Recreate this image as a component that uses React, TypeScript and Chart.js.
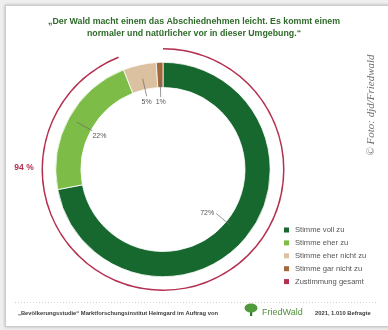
import React, { useEffect, useRef } from "react";
import { Chart, registerables } from "chart.js";

Chart.register(...registerables);

const titleLines = [
  "„Der Wald macht einem das Abschiednehmen leicht. Es kommt einem",
  "normaler und natürlicher vor in dieser Umgebung.“",
];
const categories = ["Stimme voll zu", "Stimme eher zu", "Stimme eher nicht zu", "Stimme gar nicht zu"];
const values = [72, 22, 5, 1];
const totalLabel = "Zustimmung gesamt";
const totalAgree = [94, 6];
const sourceText = "„Bevölkerungsstudie“ Marktforschungsinstitut Heimgard im Auftrag von";
const brandText = "FriedWald";
const sampleText = "2021, 1.010 Befragte";
const creditText = "© Foto: djd/Friedwald";

const colors = ["#17682f", "#7dbd47", "#dbc19f", "#a3683c"];
const totalColor = "#b3304f";
const labelInset = [13, 1.5, 7, 9.5];

const overlay = {
  id: "overlay",
  afterDraw(chart: any) {
    const ctx = chart.ctx as CanvasRenderingContext2D;
    ctx.save();
    // title
    ctx.fillStyle = "#2f6b2a";
    ctx.font = "bold 8.8px 'Liberation Sans', Arial, sans-serif";
    ctx.textAlign = "center";
    ctx.textBaseline = "middle";
    titleLines.forEach((t, i) => ctx.fillText(t, 194, 22 + i * 12));

    // slice labels
    const meta = chart.getDatasetMeta(2);
    ctx.font = "7px 'Liberation Sans', Arial, sans-serif";
    meta.data.forEach((arc: any, i: number) => {
      const p = arc.getProps(["x", "y", "startAngle", "endAngle", "innerRadius"], true);
      const mid = (p.startAngle + p.endAngle) / 2;
      const c = Math.cos(mid), s = Math.sin(mid);
      const r0 = p.innerRadius - labelInset[i];
      const r1 = r0 + 18;
      ctx.strokeStyle = "#6a6a6a";
      ctx.lineWidth = 0.7;
      ctx.beginPath();
      ctx.moveTo(p.x + c * r0, p.y + s * r0);
      ctx.lineTo(p.x + c * r1, p.y + s * r1);
      ctx.stroke();
      ctx.fillStyle = "#555";
      ctx.textAlign = c > 0.5 ? "right" : c < -0.5 ? "left" : "center";
      ctx.textBaseline = s < -0.3 ? "top" : s > 0.7 ? "bottom" : "middle";
      const ox = c > 0.5 ? -2 : 0;
      const oy = s < -0.3 ? 2 : 0;
      ctx.fillText(values[i] + "%", p.x + c * r0 + ox, p.y + s * r0 + oy);
    });

    // total label
    ctx.fillStyle = totalColor;
    ctx.font = "bold 8.5px 'Liberation Sans', Arial, sans-serif";
    ctx.textAlign = "center";
    ctx.textBaseline = "middle";
    ctx.fillText(totalAgree[0] + " %", 24, 168);

    // legend
    const items = categories.map((c, i) => ({ t: c, col: colors[i] }));
    items.push({ t: totalLabel, col: totalColor });
    ctx.font = "7.6px 'Liberation Sans', Arial, sans-serif";
    ctx.textAlign = "left";
    items.forEach((it, i) => {
      const y = 230 + i * 12.9;
      ctx.fillStyle = it.col;
      ctx.fillRect(284, y - 2.5, 5, 5);
      ctx.fillStyle = "#555";
      ctx.fillText(it.t, 295, y);
    });

    // dotted separator
    ctx.strokeStyle = "#d0d0d0";
    ctx.lineWidth = 1;
    ctx.setLineDash([1, 2]);
    ctx.beginPath();
    ctx.moveTo(15, 302.5);
    ctx.lineTo(378, 302.5);
    ctx.stroke();
    ctx.setLineDash([]);

    // footer
    ctx.fillStyle = "#3a3a3a";
    ctx.font = "bold 5.8px 'Liberation Sans', Arial, sans-serif";
    ctx.fillText(sourceText, 18, 313);
    ctx.fillText(sampleText, 315, 313);
    // logo
    ctx.fillStyle = "#2f7a32";
    ctx.fillRect(250, 309, 2.2, 7);
    ctx.fillStyle = "#4f9a3c";
    ctx.beginPath();
    ctx.ellipse(251, 308, 6.5, 4.5, 0, 0, Math.PI * 2);
    ctx.fill();
    ctx.fillStyle = "#4f8f3a";
    ctx.font = "9px 'Liberation Sans', Arial, sans-serif";
    ctx.fillText(brandText, 262, 313);

    // vertical credit
    ctx.translate(371, 105);
    ctx.rotate(-Math.PI / 2);
    ctx.fillStyle = "#6e6e6e";
    ctx.font = "italic 11px 'Liberation Serif', serif";
    ctx.textAlign = "center";
    ctx.textBaseline = "middle";
    ctx.fillText(creditText, 0, 0);
    ctx.restore();
  },
};

export default function App() {
  const ref = useRef<HTMLCanvasElement>(null);
  useEffect(() => {
    if (!ref.current) return;
    const chart = new Chart(ref.current, {
      type: "doughnut",
      data: {
        labels: categories,
        datasets: [
          {
            label: totalLabel,
            data: totalAgree,
            backgroundColor: [totalColor, "rgba(0,0,0,0)"],
            borderWidth: 0,
            weight: 1.5,
          } as any,
          {
            label: "spacer",
            data: [1],
            backgroundColor: ["rgba(0,0,0,0)"],
            borderWidth: 0,
            weight: 13,
          } as any,
          {
            label: "Antworten",
            data: values,
            backgroundColor: colors,
            borderColor: "#ffffff",
            borderWidth: 0.8,
            weight: 25.5,
          } as any,
        ],
      },
      options: {
        responsive: false,
        animation: false,
        events: [],
        radius: 121.5,
        cutout: "67.5%",
        layout: { padding: { left: 41, right: 103, top: 48, bottom: 39 } },
        plugins: { legend: { display: false }, tooltip: { enabled: false }, title: { display: false } },
      } as any,
      plugins: [overlay],
    });
    return () => chart.destroy();
  }, []);
  return (
    <div style={{ position: "fixed", left: 0, top: 0, width: 388, height: 330, background: "#efefef", overflow: "hidden" }}>
      <div
        style={{
          position: "absolute",
          left: 5,
          top: 5,
          width: 400,
          height: 320,
          background: "#fff",
          border: "1px solid #cdcdcd",
          boxShadow: "0 0 3px rgba(0,0,0,0.25)",
        }}
      />
      <canvas ref={ref} width={388} height={330} style={{ position: "absolute", left: 0, top: 0, width: 388, height: 330 }} />
    </div>
  );
}
